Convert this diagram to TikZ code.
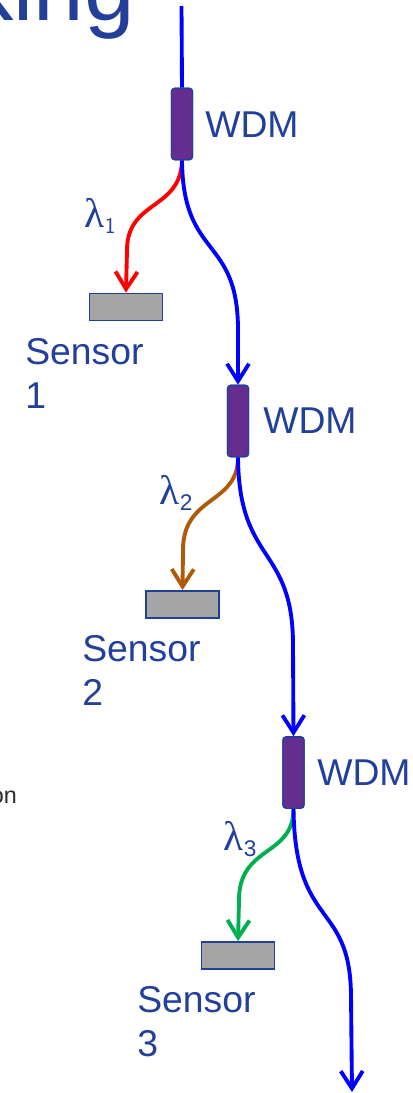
\documentclass[tikz,border=0pt]{standalone}
\usepackage{fontspec}
\setmainfont{Liberation Sans}
\newfontfamily\lamfont{Liberation Serif}
\usetikzlibrary{arrows.meta}
\definecolor{txtblue}{HTML}{22409A}
\definecolor{fiberblue}{HTML}{0000FF}
\definecolor{wdmpurple}{HTML}{662D91}
\definecolor{sensgray}{HTML}{A6A6A6}
\definecolor{brbrown}{HTML}{AE5A06}
\definecolor{brgreen}{HTML}{00B050}
\definecolor{brred}{HTML}{FF0000}
\definecolor{faintgray}{HTML}{2A2A2A}
\begin{document}
\begin{tikzpicture}[x=0.75pt,y=-0.75pt,
  wdmbox/.style={draw=txtblue,line width=1pt,fill=wdmpurple,rounded corners=2.5pt,minimum width=15.8pt,minimum height=53.5pt,inner sep=0pt},
  sensorbox/.style={draw=txtblue,line width=1.1pt,fill=sensgray,minimum width=55pt,minimum height=20.5pt,inner sep=0pt},
  fiber/.style={line width=2.9pt},
  tip/.style={-{Straight Barb[length=13pt,width=16.5pt]}},
  lbl/.style={text=txtblue,inner sep=0pt,font=\fontsize{28}{33}\selectfont},
  lam/.style={text=txtblue,inner sep=0pt,font=\fontsize{31}{33}\selectfont},
  sub/.style={font=\fontsize{17}{18}\selectfont},
]
\useasboundingbox (0,0) rectangle (412,1093);
\clip (0,0) rectangle (412,1093);

% title fragment and side text
\node[text=txtblue,inner sep=0pt,anchor=base east,font=\fontsize{68}{72}\selectfont] (title) at (135,20) {king};
\node[text=faintgray,inner sep=0pt,anchor=base east,font=\fontsize{17.5}{19}\selectfont] (side) at (17,803) {on};

% nodes
\node[wdmbox] (w1) at (182,124) {};
\node[wdmbox] (w2) at (238,421) {};
\node[wdmbox] (w3) at (293.5,772.5) {};
\node[sensorbox] (s1) at (126,307) {};
\node[sensorbox] (s2) at (182.5,604.5) {};
\node[sensorbox] (s3) at (238,955.5) {};

\coordinate (top) at (181.5,6);
\coordinate (bottom) at (352,1092);

% wavelength branches
\draw[fiber,brred,tip] (w1.south) .. controls (181,210) and (127,200) .. (127,250) -- (s1.north);
\draw[fiber,brbrown,tip] (w2.south) .. controls (238,505) and (183,495) .. (183,550) -- (s2.north);
\draw[fiber,brgreen,tip] (w3.south) .. controls (293.5,857) and (239,845) .. (239,900) -- (s3.north);

% main fiber
\draw[fiber,fiberblue] (top) -- (w1.north);
\draw[fiber,fiberblue,tip] (w1.south) .. controls (183,260) and (238,235) .. (238,330) -- (w2.north);
\draw[fiber,fiberblue,tip] (w2.south) .. controls (239,565) and (293,545) .. (293,645) -- (w3.north);
\draw[fiber,fiberblue,tip] (w3.south) .. controls (295,930) and (350,900) .. (351,995) -- (bottom);

% redraw boxes on top
\node[wdmbox] at (w1) {};
\node[wdmbox] at (w2) {};
\node[wdmbox] at (w3) {};

% labels
\node[lbl,anchor=base west] (t1) at (205,137) {WDM};
\node[lbl,anchor=base west] (t2) at (263,433) {WDM};
\node[lbl,anchor=base west] (t3) at (317,785) {WDM};

\node[lbl,anchor=north west,align=left] (n1) at (25,338) {Sensor\\1};
\node[lbl,anchor=north west,align=left] (n2) at (82,635) {Sensor\\2};
\node[lbl,anchor=north west,align=left] (n3) at (137,986) {Sensor\\3};

\node[lam,anchor=base west] (l1) at (84,227) {{\lamfont λ}\kern0.5pt\raisebox{-4.5pt}{\sffamily\fontsize{17}{18}\selectfont 1}};
\node[lam,anchor=base west] (l2) at (159,504) {{\lamfont λ}\kern0.5pt\raisebox{-4.5pt}{\fontsize{17}{18}\selectfont 2}};
\node[lam,anchor=base west] (l3) at (223,850) {{\lamfont λ}\kern0.5pt\raisebox{-4.5pt}{\fontsize{17}{18}\selectfont 3}};
\end{tikzpicture}
\end{document}
